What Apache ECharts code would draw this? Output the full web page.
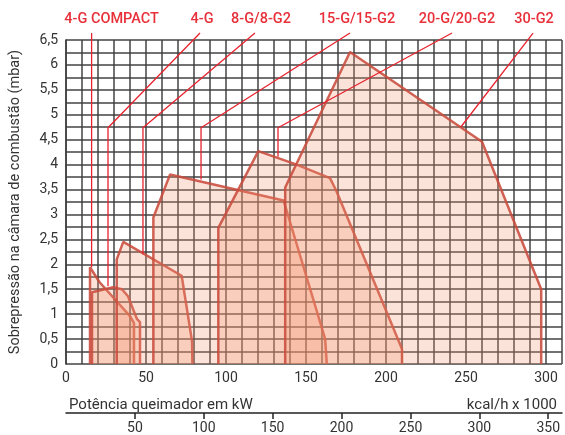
<!DOCTYPE html>
<html><head><meta charset="utf-8">
<script src="https://cdn.jsdelivr.net/npm/echarts@6/dist/echarts.min.js"></script>
<style>html,body{margin:0;padding:0;background:#fff}#c{width:565px;height:435px}</style>
</head><body><div id="c"></div>
<script>
// Burner working envelopes: [kW, mbar]
const compact4G = [[15,0],[15,1.94],[21,1.64],[40,0.96],[42.5,0.82],[42.5,0]];
const g4 = [[16.25,0],[16.25,1.44],[29.4,1.54],[35,1.5],[38.75,1.36],[44.4,0.9],[46.25,0.84],[46.25,0]];
const g8 = [[31.7,0],[31.7,2.1],[35.8,2.45],[72.3,1.77],[78.8,0.45],[79,0]];
const g15 = [[54.6,0],[54.6,2.94],[65,3.8],[136,3.28],[162,0.5],[163,0]];
const g20 = [[95.2,0],[95.2,2.73],[120.2,4.27],[144.2,4.0],[165,3.73],[169,3.47],[210,0.3],[210,0]];
const g30 = [[137,0],[137,3.54],[177.5,6.26],[260,4.46],[297,1.5],[297,0]];

const polygons = [compact4G, g4, g8, g15, g20, g30];

// Leader lines (label end first)
const leaderNames = ['4-G COMPACT','4-G','8-G/8-G2','15-G/15-G2','20-G/20-G2','30-G2'];
const leaders = [
  [[16,6.64],[16,1.94]],
  [[83.75,6.64],[26.25,4.74],[26.25,1.56]],
  [[118.1,6.64],[48.1,4.74],[48.1,2.2]],
  [[177.5,6.64],[84.4,4.74],[84.4,3.7]],
  [[241.25,6.64],[132.5,4.74],[132.5,4.16]],
  [[291.9,6.64],[246.9,4.76]]
];
const labelOffsets = [20,2,6,7,5,1];

const kwTicks = [0,50,100,150,200,250,300];
const kcalTicks = [50,100,150,200,250,300,350];

const gridLine = {show:true, lineStyle:{color:'rgba(60,60,60,0.72)', width:2}};
const font = 'Roboto';

const series = [];
polygons.forEach((p,i)=>{
  series.push({
    type:'line', xAxisIndex:0, yAxisIndex:0, data:p, symbol:'none', z:2+i,
    lineStyle:{color:'rgba(200,76,62,0.88)', width:2.5},
    areaStyle:{color:'rgba(242,145,108,0.37)', origin:'start'},
    silent:true, animation:false
  });
});
leaders.forEach((l,i)=>{
  series.push({
    type:'line', xAxisIndex:0, yAxisIndex:0, clip:false, z:20,
    symbol:'circle', symbolSize:0, showSymbol:true,
    lineStyle:{color:'#e8232e', width:1.3},
    data: l.map((pt,j)=> j===0 ? {value:pt, label:{show:true, position:'top', distance:6, offset:[labelOffsets[i],0],
      formatter:leaderNames[i], color:'#e8303a', fontFamily:font, fontWeight:500, fontSize:14.5}} : {value:pt}),
    animation:false
  });
});

const chart = echarts.init(document.getElementById('c'), null, {renderer:'canvas'});
chart.setOption({
  animation:false,
  backgroundColor:'#fff',
  title:[
    {text:'Potência queimador em kW', left:64, top:393, textStyle:{fontFamily:font, fontWeight:'normal', fontSize:15, color:'#333'}},
    {text:'kcal/h x 1000', right:3, top:393, textStyle:{fontFamily:font, fontWeight:'normal', fontSize:15, color:'#333'}}
  ],
  grid:{left:66, right:3, top:40, bottom:70},
  xAxis:[
    {type:'value', min:0, max:310, interval:50, position:'bottom',
     axisLine:{show:false}, axisTick:{show:false},
     axisLabel:{color:'#333', fontFamily:font, fontSize:14, margin:7, showMaxLabel:false,
       formatter:v=> kwTicks.includes(v) ? String(v) : ''},
     splitLine:gridLine,
     minorTick:{show:false, splitNumber:5}, minorSplitLine:gridLine},
    {type:'value', min:0, max:360, interval:50, position:'bottom', offset:49,
     axisLine:{show:true, onZero:false, lineStyle:{color:'#222', width:1.5}},
     axisTick:{show:true, length:6, lineStyle:{color:'#222', width:1.5}},
     axisLabel:{color:'#333', fontFamily:font, fontSize:14, margin:8, showMinLabel:false, showMaxLabel:false,
       formatter:v=> kcalTicks.includes(v) ? String(v) : ''},
     splitLine:{show:false}}
  ],
  yAxis:{type:'value', min:0, max:6.5, interval:0.5,
    name:'Sobrepressão na câmara de combustão (mbar)', nameLocation:'middle', nameGap:43, nameRotate:90,
    nameTextStyle:{color:'#333', fontFamily:font, fontSize:14.5},
    axisLine:{show:true, lineStyle:{color:'rgba(60,60,60,0.72)', width:2}}, axisTick:{show:false},
    axisLabel:{color:'#333', fontFamily:font, fontSize:14, margin:8, formatter:v=>String(v).replace('.',',')},
    splitLine:gridLine, minorTick:{show:false, splitNumber:2}, minorSplitLine:gridLine},
  series:series
});
</script></body></html>
